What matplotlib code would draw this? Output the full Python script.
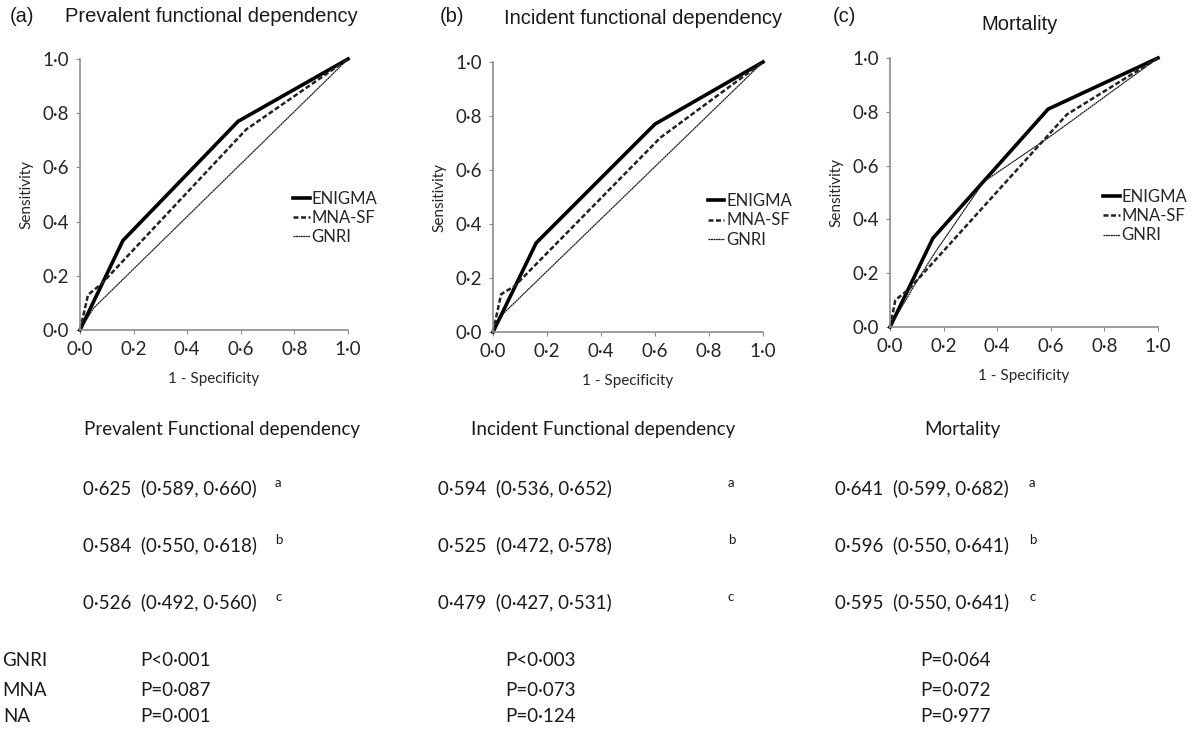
import numpy as np
import matplotlib
matplotlib.use('Agg')
import matplotlib.pyplot as plt
from matplotlib.ticker import FuncFormatter

# ROC curve points (1 - specificity, sensitivity)
enigma_a_x = [0.0, 0.16, 0.59, 1.0]
enigma_a_y = [0.0, 0.33, 0.77, 1.0]
mna_a_x = [0.0, 0.03, 0.08, 0.62, 1.0]
mna_a_y = [0.0, 0.13, 0.17, 0.74, 1.0]
gnri_a_x = [0.0, 0.05, 1.0]
gnri_a_y = [0.0, 0.08, 1.0]

enigma_b_x = [0.0, 0.16, 0.60, 1.0]
enigma_b_y = [0.0, 0.33, 0.77, 1.0]
mna_b_x = [0.0, 0.03, 0.08, 0.62, 1.0]
mna_b_y = [0.0, 0.14, 0.17, 0.72, 1.0]
gnri_b_x = [0.0, 0.04, 1.0]
gnri_b_y = [0.0, 0.07, 1.0]

enigma_c_x = [0.0, 0.16, 0.59, 1.0]
enigma_c_y = [0.0, 0.33, 0.81, 1.0]
mna_c_x = [0.0, 0.02, 0.07, 0.17, 0.66, 1.0]
mna_c_y = [0.0, 0.10, 0.14, 0.25, 0.79, 1.0]
gnri_c_x = [0.0, 0.10, 0.17, 0.35, 0.60, 1.0]
gnri_c_y = [0.0, 0.17, 0.28, 0.54, 0.71, 1.0]

panel_letters = ['(a)', '(b)', '(c)']
panel_titles = ['Prevalent functional dependency', 'Incident functional dependency', 'Mortality']
series_names = ['ENIGMA', 'MNA-SF', 'GNRI']

# AUC table
table_titles = ['Prevalent Functional dependency', 'Incident Functional dependency', 'Mortality']
auc_rows = [
    ['0·625  (0·589, 0·660)', '0·584  (0·550, 0·618)', '0·526  (0·492, 0·560)'],
    ['0·594  (0·536, 0·652)', '0·525  (0·472, 0·578)', '0·479  (0·427, 0·531)'],
    ['0·641  (0·599, 0·682)', '0·596  (0·550, 0·641)', '0·595  (0·550, 0·641)'],
]
auc_marks = ['a', 'b', 'c']
# row labels, only their right ends are visible in the picture
comparisons = ['GNRI', 'MNA', 'NA']
p_values = [
    ['P<0·001', 'P=0·087', 'P=0·001'],
    ['P<0·003', 'P=0·073', 'P=0·124'],
    ['P=0·064', 'P=0·072', 'P=0·977'],
]

W, H = 1194, 731
fig = plt.figure(figsize=(W / 100, H / 100), dpi=100)

def px(x0, y0, x1, y1):
    return [x0 / W, 1 - y1 / H, (x1 - x0) / W, (y1 - y0) / H]

axes_px = [(80, 59, 348, 330), (493, 62, 763, 332), (890, 58, 1158, 327)]
curves = [
    [(enigma_a_x, enigma_a_y), (mna_a_x, mna_a_y), (gnri_a_x, gnri_a_y)],
    [(enigma_b_x, enigma_b_y), (mna_b_x, mna_b_y), (gnri_b_x, gnri_b_y)],
    [(enigma_c_x, enigma_c_y), (mna_c_x, mna_c_y), (gnri_c_x, gnri_c_y)],
]
styles = [dict(color='black', lw=2.6, ls='-'),
          dict(color='#222222', lw=1.8, ls=(0, (2.0, 1.0))),
          dict(color='#1a1a1a', lw=0.9, ls=(0, (1.6, 0.35)))]

dot_fmt = FuncFormatter(lambda v, p: f'{v:.1f}'.replace('.', '·'))
cal = 'Lato'

for i, box in enumerate(axes_px):
    ax = fig.add_axes(px(*box))
    for (xs, ys), st, name in zip(curves[i], styles, series_names):
        ax.plot(xs, ys, label=name, clip_on=False, **st)
    ax.set_xlim(0, 1); ax.set_ylim(0, 1)
    ax.set_xticks(np.arange(0, 1.01, 0.2)); ax.set_yticks(np.arange(0, 1.01, 0.2))
    ax.xaxis.set_major_formatter(dot_fmt); ax.yaxis.set_major_formatter(dot_fmt)
    for s in ['top', 'right']:
        ax.spines[s].set_visible(False)
    for s in ['left', 'bottom']:
        ax.spines[s].set_color('#8c8c8c'); ax.spines[s].set_linewidth(1.2)
    ax.tick_params(length=3, color='#8c8c8c', labelsize=13.5, labelcolor='#262626', pad=5)
    for lb in ax.get_xticklabels() + ax.get_yticklabels():
        lb.set_fontfamily(cal)
    ax.set_xlabel('1 - Specificity', fontsize=11, family=cal, color='#262626', labelpad=10)
    ax.set_ylabel('Sensitivity', fontsize=11, family=cal, color='#262626', labelpad=6)
    leg = ax.legend(loc='upper left', bbox_to_anchor=(0.74, 0.57), frameon=False,
                    handlelength=1.0, handletextpad=0.1, labelspacing=0.2,
                    prop=dict(family=cal, size=12))
    for t in leg.get_texts():
        t.set_color('#262626')

# panel titles
title_font = dict(family='Liberation Sans', fontsize=14.5, color='#1a1a1a', va='center')
fig.text(10 / W, 1 - 16 / H, panel_letters[0], **title_font)
fig.text(211 / W, 1 - 17 / H, panel_titles[0], ha='center', **title_font)
fig.text(440 / W, 1 - 16 / H, panel_letters[1], **title_font)
fig.text(643 / W, 1 - 18 / H, panel_titles[1], ha='center', **title_font)
fig.text(833 / W, 1 - 16 / H, panel_letters[2], **title_font)
fig.text(1020 / W, 1 - 24 / H, panel_titles[2], ha='center', **title_font)

# table below
tab_font = dict(family=cal, fontsize=13.5, color='#1a1a1a', va='center')
title_cx = [222, 603, 962]
value_x = [83, 438, 835]
mark_x = [275, 728, 1029]
p_x = [140, 505, 920]
row_y = [488, 545, 602]
p_y = [660, 690, 717]
for c in range(3):
    fig.text(title_cx[c] / W, 1 - 430 / H, table_titles[c], ha='center', **tab_font)
    for r in range(3):
        fig.text(value_x[c] / W, 1 - row_y[r] / H, auc_rows[c][r], **tab_font)
        fig.text(mark_x[c] / W, 1 - (row_y[r] - 5) / H, auc_marks[r],
                 family=cal, fontsize=9.5, color='#1a1a1a', va='center')
        fig.text(p_x[c] / W, 1 - p_y[r] / H, p_values[c][r], **tab_font)

fig.text(47 / W, 1 - p_y[0] / H, comparisons[0], ha='right', **tab_font)
fig.text(47 / W, 1 - p_y[1] / H, comparisons[1], ha='right', **tab_font)
fig.text(3 / W, 1 - p_y[2] / H, comparisons[2], ha='left', **tab_font)

fig.savefig('out.png', dpi=100)
